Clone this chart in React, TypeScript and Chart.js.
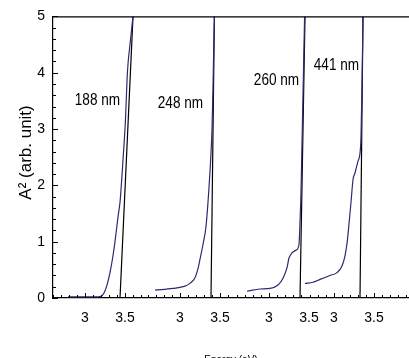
import React, { useEffect, useRef } from "react";
import { Chart, registerables } from "chart.js";

Chart.register(...registerables);

// ---- data (energy in eV, A² in arb. units) ----
const PANEL_LABELS = ["188 nm", "248 nm", "260 nm", "441 nm"];

const E_188 = [2.7875, 2.9375, 3.125, 3.2, 3.2375, 3.275, 3.3125, 3.35, 3.375, 3.4125, 3.4375, 3.475, 3.505, 3.53, 3.57, 3.6];
const A_188 = [0.02, 0.02, 0.02, 0.03, 0.09, 0.23, 0.45, 0.75, 1.0, 1.44, 1.7, 2.45, 3.14, 4.0, 4.6, 5.0];
const FIT_E_188 = [3.4375, 3.6];
const FIT_A_188 = [0, 5];

const E_248 = [2.6875, 2.9125, 3.0625, 3.125, 3.1875, 3.225, 3.25, 3.2875, 3.325, 3.3625, 3.3875, 3.4, 3.4125, 3.422, 3.43];
const A_248 = [0.14, 0.17, 0.21, 0.26, 0.36, 0.52, 0.69, 0.95, 1.27, 1.96, 2.57, 3.0, 3.73, 4.48, 5.0];
const FIT_E_248 = [3.3875, 3.43];
const FIT_A_248 = [0, 5];

const E_260 = [2.725, 2.8875, 3.0125, 3.1125, 3.175, 3.225, 3.25, 3.2875, 3.3375, 3.375, 3.3875, 3.4, 3.41, 3.425, 3.445];
const A_260 = [0.12, 0.16, 0.17, 0.23, 0.35, 0.54, 0.71, 0.8, 0.85, 0.95, 1.35, 1.875, 2.57, 3.6, 5.0];
const FIT_E_260 = [3.3875, 3.45];
const FIT_A_260 = [0, 5];

const E_441 = [2.6375, 2.7375, 2.825, 2.95, 3.0375, 3.1, 3.1375, 3.1625, 3.175, 3.2125, 3.2375, 3.2625, 3.3, 3.325, 3.3375, 3.35, 3.3625];
const A_441 = [0.26, 0.28, 0.33, 0.4, 0.45, 0.57, 0.75, 0.97, 1.13, 1.7, 2.1, 2.22, 2.43, 2.57, 2.86, 3.78, 5.0];
const FIT_E_441 = [3.325, 3.3625];
const FIT_A_441 = [0, 5];

const CURVES_E = [E_188, E_248, E_260, E_441];
const CURVES_A = [A_188, A_248, A_260, A_441];
const FITS_E = [FIT_E_188, FIT_E_248, FIT_E_260, FIT_E_441];
const FITS_A = [FIT_A_188, FIT_A_248, FIT_A_260, FIT_A_441];

const X_TICKS = [3, 3.5];
const X_TICK_LABELS = ["3", "3.5"];
const Y_TICKS = [0, 1, 2, 3, 4, 5];

// where each panel sits on the shared horizontal axis (eV shift)
const PANEL_SHIFT = [-2.6, -1.4125, -0.3, 0.5125];
const AXIS_MIN = 0;
const AXIS_MAX = 4.45;

// label anchors (panel energy, A²)
const LABEL_E = [3.156, 3.006, 3.094, 3.031];
const LABEL_A = [3.51, 3.46, 3.87, 4.13];

const REGULAR = "'Liberation Sans', Arial, sans-serif";

const decorPlugin = {
  id: "panelDecor",
  afterDraw(chart: any) {
    const { ctx, chartArea } = chart;
    const xs = chart.scales.x;
    const ys = chart.scales.y;
    ctx.save();
    ctx.strokeStyle = "#000";
    ctx.lineWidth = 1.2;
    // top frame line
    ctx.beginPath();
    ctx.moveTo(chartArea.left, chartArea.top + 0.5);
    ctx.lineTo(chartArea.right, chartArea.top + 0.5);
    ctx.stroke();

    ctx.lineWidth = 1;
    // y ticks (inward)
    for (let i = 0; i <= 25; i++) {
      const v = i * 0.2;
      const py = Math.round(ys.getPixelForValue(v)) + 0.5;
      const major = i % 5 === 0;
      ctx.beginPath();
      ctx.moveTo(chartArea.left, py);
      ctx.lineTo(chartArea.left + (major ? 5 : 3), py);
      ctx.stroke();
    }

    // x ticks (inward), per panel band
    const mins = CURVES_E.map((e, k) => Math.min(...e) + PANEL_SHIFT[k]);
    const maxs = CURVES_E.map((e, k) => Math.max(...e, ...FITS_E[k]) + PANEL_SHIFT[k]);
    for (let k = 0; k < 4; k++) {
      const lo = k === 0 ? AXIS_MIN : (maxs[k - 1] + mins[k]) / 2;
      const hi = k === 3 ? AXIS_MAX : (maxs[k] + mins[k + 1]) / 2;
      for (let j = -20; j <= 20; j++) {
        const e = 3 + j * 0.1;
        const u = e + PANEL_SHIFT[k];
        if (u < lo || u >= hi) continue;
        const px = Math.round(xs.getPixelForValue(u)) + 0.5;
        const major = j % 5 === 0;
        ctx.beginPath();
        ctx.moveTo(px, chartArea.bottom);
        ctx.lineTo(px, chartArea.bottom - (major ? 5 : 3));
        ctx.stroke();
      }
    }

    // panel labels (condensed)
    ctx.fillStyle = "#000";
    ctx.font = `17px ${REGULAR}`;
    ctx.textAlign = "center";
    ctx.textBaseline = "middle";
    for (let k = 0; k < 4; k++) {
      const px = xs.getPixelForValue(LABEL_E[k] + PANEL_SHIFT[k]);
      const py = ys.getPixelForValue(LABEL_A[k]);
      ctx.save();
      ctx.translate(px, py);
      ctx.scale(0.8, 1);
      ctx.fillText(PANEL_LABELS[k], 0, 0);
      ctx.restore();
    }
    ctx.restore();
  },
};

export default function App() {
  const ref = useRef<HTMLCanvasElement | null>(null);

  useEffect(() => {
    if (!ref.current) return;
    const datasets: any[] = [];
    for (let k = 0; k < 4; k++) {
      datasets.push({
        label: PANEL_LABELS[k],
        data: CURVES_E[k].map((e, i) => ({ x: e + PANEL_SHIFT[k], y: CURVES_A[k][i] })),
        borderColor: "#2a2a70",
        borderWidth: 1.2,
        pointRadius: 0,
        cubicInterpolationMode: "monotone",
        fill: false,
      });
      datasets.push({
        label: PANEL_LABELS[k] + " fit",
        data: FITS_E[k].map((e, i) => ({ x: e + PANEL_SHIFT[k], y: FITS_A[k][i] })),
        borderColor: "#000",
        borderWidth: 1.2,
        pointRadius: 0,
        fill: false,
      });
    }

    const chart = new Chart(ref.current, {
      type: "line",
      data: { datasets },
      plugins: [decorPlugin],
      options: {
        animation: false,
        responsive: false,
        layout: { padding: { top: 10, left: 0, right: 0, bottom: 0 } },
        plugins: { legend: { display: false }, tooltip: { enabled: false } },
        scales: {
          x: {
            type: "linear",
            min: AXIS_MIN,
            max: AXIS_MAX,
            grid: { display: false, drawTicks: false },
            border: { display: true, color: "#000", width: 1.2 },
            afterBuildTicks: (s: any) => {
              s.ticks = PANEL_SHIFT.flatMap((sh) => X_TICKS.map((t) => ({ value: t + sh })));
            },
            afterFit: (s: any) => {
              s.height = 60;
            },
            ticks: {
              autoSkip: false,
              maxRotation: 0,
              padding: 12,
              color: "#000",
              font: { family: REGULAR, size: 14 },
              callback: (_v: any, i: number) => X_TICK_LABELS[i % X_TICKS.length],
            },
            title: {
              display: true,
              text: "Energy (eV)",
              color: "#000",
              font: { family: REGULAR, size: 10 },
              padding: { top: 0, bottom: -8 },
            },
          },
          y: {
            type: "linear",
            min: 0,
            max: 5,
            grid: { display: false, drawTicks: false },
            border: { display: true, color: "#000", width: 1.2 },
            afterBuildTicks: (s: any) => {
              s.ticks = Y_TICKS.map((v) => ({ value: v }));
            },
            afterFit: (s: any) => {
              s.width = 53;
            },
            ticks: {
              padding: 8,
              color: "#000",
              font: { family: REGULAR, size: 14 },
            },
            title: {
              display: true,
              text: "  A² (arb. unit)",
              color: "#000",
              font: { family: REGULAR, size: 17 },
              padding: { top: 16, bottom: 0 },
            },
          },
        },
      },
    });
    return () => chart.destroy();
  }, []);

  return (
    <div style={{ position: "fixed", left: 0, top: 0, width: 409, height: 358, background: "#fff" }}>
      <canvas ref={ref} width={409} height={358} style={{ display: "block" }} />
    </div>
  );
}
